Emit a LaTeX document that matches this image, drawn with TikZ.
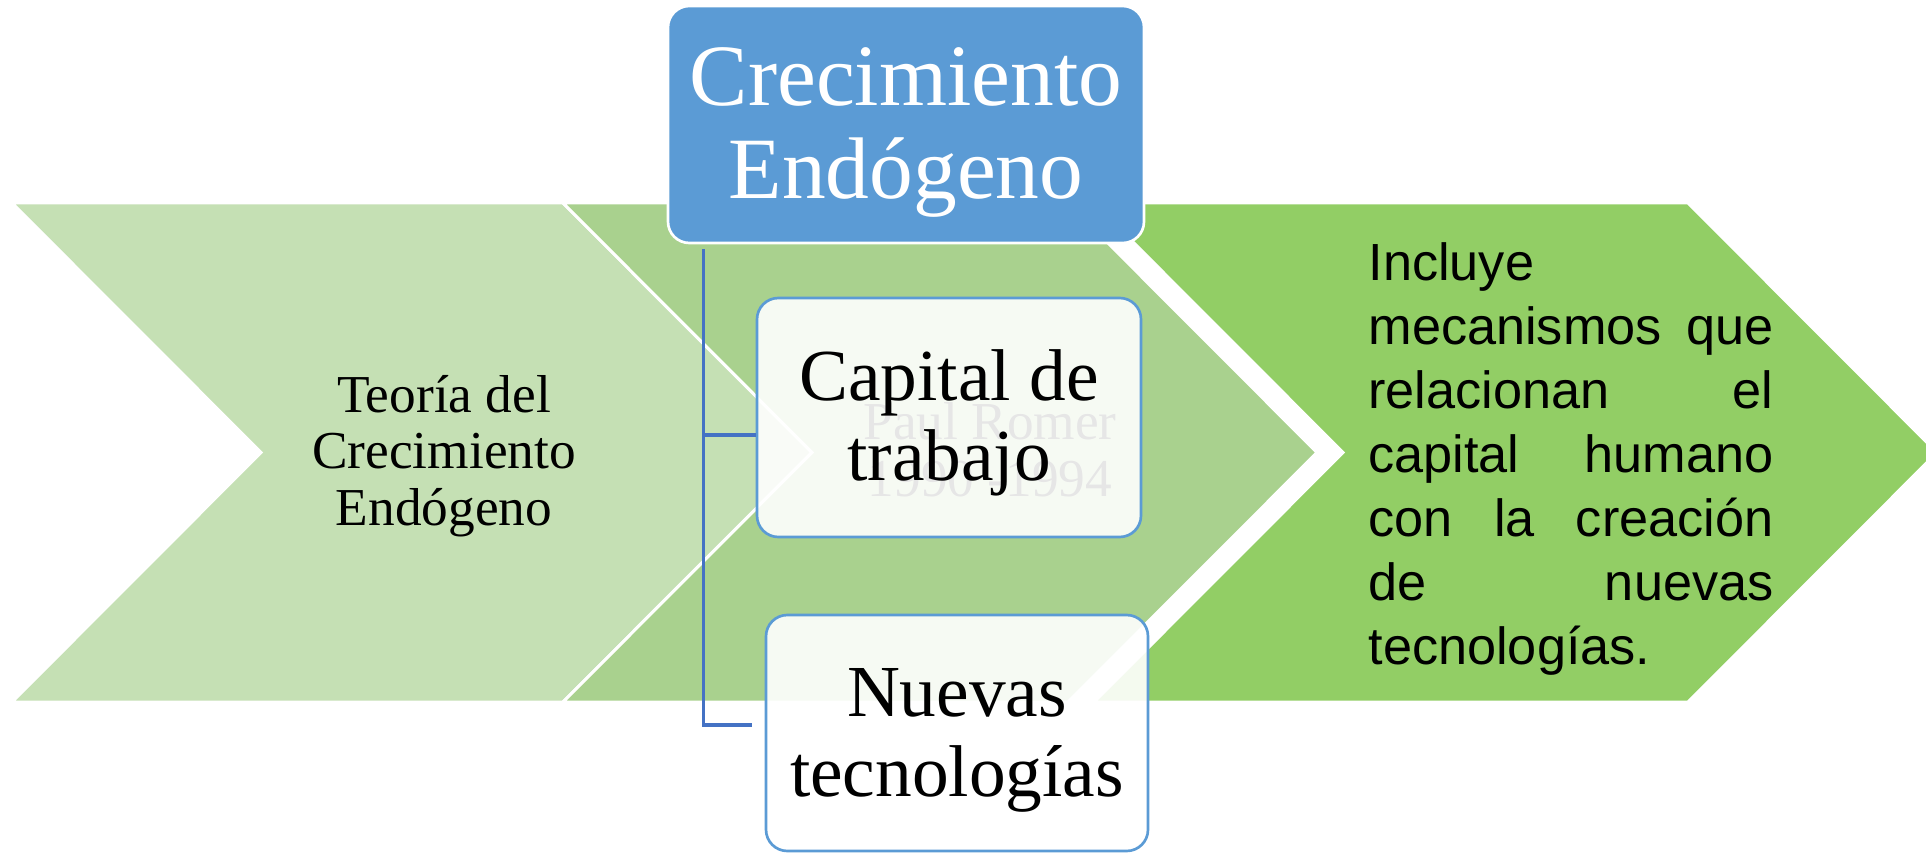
\documentclass[tikz,border=0pt]{standalone}
\usepackage{fontspec}
\setmainfont{Liberation Serif}
\newfontfamily\arialfont{Liberation Sans}
\newcommand{\alto}{\rule{0pt}{0.85em}}
\newcommand{\linea}[1]{\makebox[303.75pt][s]{#1}}

\tikzset{every picture/.style={line width=0.75pt}}
\tikzset{
  flecha/.style={draw=white, line width=2.25pt, line join=miter},
  textoflecha/.style={align=center, inner sep=0pt, font=\fontsize{40pt}{42.4pt}\selectfont},
  titulo/.style={draw=white, line width=2pt, fill={rgb,255:red,91;green,155;blue,213}, rounded corners=16pt, minimum width=357pt, minimum height=177.75pt, inner sep=0pt, align=center, text=white, font=\fontsize{65.6pt}{70pt}\selectfont},
  caja/.style={draw={rgb,255:red,91;green,155;blue,213}, line width=2pt, fill=white, fill opacity=0.9, text opacity=1, rounded corners=16pt, inner sep=0pt, align=center, font=\fontsize{55pt}{60pt}\selectfont},
  conector/.style={draw={rgb,255:red,68;green,114;blue,196}, line width=2.5pt}
}

\begin{document}
\begin{tikzpicture}[x=0.75pt,y=0.75pt,yscale=-1,xscale=1]
%set diagram left start at 0, and has height of 855
\path[use as bounding box] (0,0) rectangle (1926,855);

%Shape: Chevron [id:teoria]
\draw [flecha, fill={rgb,255:red,197;green,224;blue,180}] (12,203) -- (563,203) -- (812,452.5) -- (563,702) -- (12,702) -- (261,452.5) -- cycle ;
%Shape: Chevron [id:romer]
\draw [flecha, fill={rgb,255:red,169;green,209;blue,142}] (563,203) -- (1068,203) -- (1317,452.5) -- (1068,702) -- (563,702) -- (812,452.5) -- cycle ;
%Shape: Chevron [id:incluye]
\draw [flecha, fill={rgb,255:red,146;green,206;blue,101}] (1094,203) -- (1688,203) -- (1937,452.5) -- (1688,702) -- (1094,702) -- (1343,452.5) -- cycle ;

% Text Node
\draw (990,450) node [textoflecha] (romer) {Paul Romer\\1990 -1994};
% Text Node
\draw (444,456) node [textoflecha] (teoria) {Teoría del\\Crecimiento\\Endógeno};

%Rounded Rect [id:crec]
\draw (906,124.5) node [titulo] (crec) {\alto Crecimiento\\Endógeno};
%Rounded Rect [id:capital]
\draw (949,417.5) node [caja, minimum width=288pt, minimum height=179.25pt] (capital) {\alto Capital de\\trabajo};
%Rounded Rect [id:nuevas]
\draw (957,733) node [caja, minimum width=286.5pt, minimum height=177pt] (nuevas) {\alto Nuevas\\tecnologías};

%Straight Lines [id:raiz] (yshift is flipped by yscale=-1)
\coordinate (raiz) at ([xshift=27.75pt,yshift=3.75pt]crec.south west);
\draw [conector] (raiz) |- ([yshift=13.125pt]capital.west) ;
\draw [conector] (raiz) |- ([xshift=-9.75pt,yshift=-6pt]nuevas.west) ;

% Text Node
\draw (1368,242.6) node [anchor=north west, inner sep=0pt, align=left, font=\arialfont\fontsize{39.2pt}{47.9pt}\selectfont] (incluye) {Incluye\\\linea{mecanismos que}\\\linea{relacionan el}\\\linea{capital humano}\\\linea{con la creación}\\\linea{de nuevas}\\tecnologías.};

\end{tikzpicture}
\end{document}
